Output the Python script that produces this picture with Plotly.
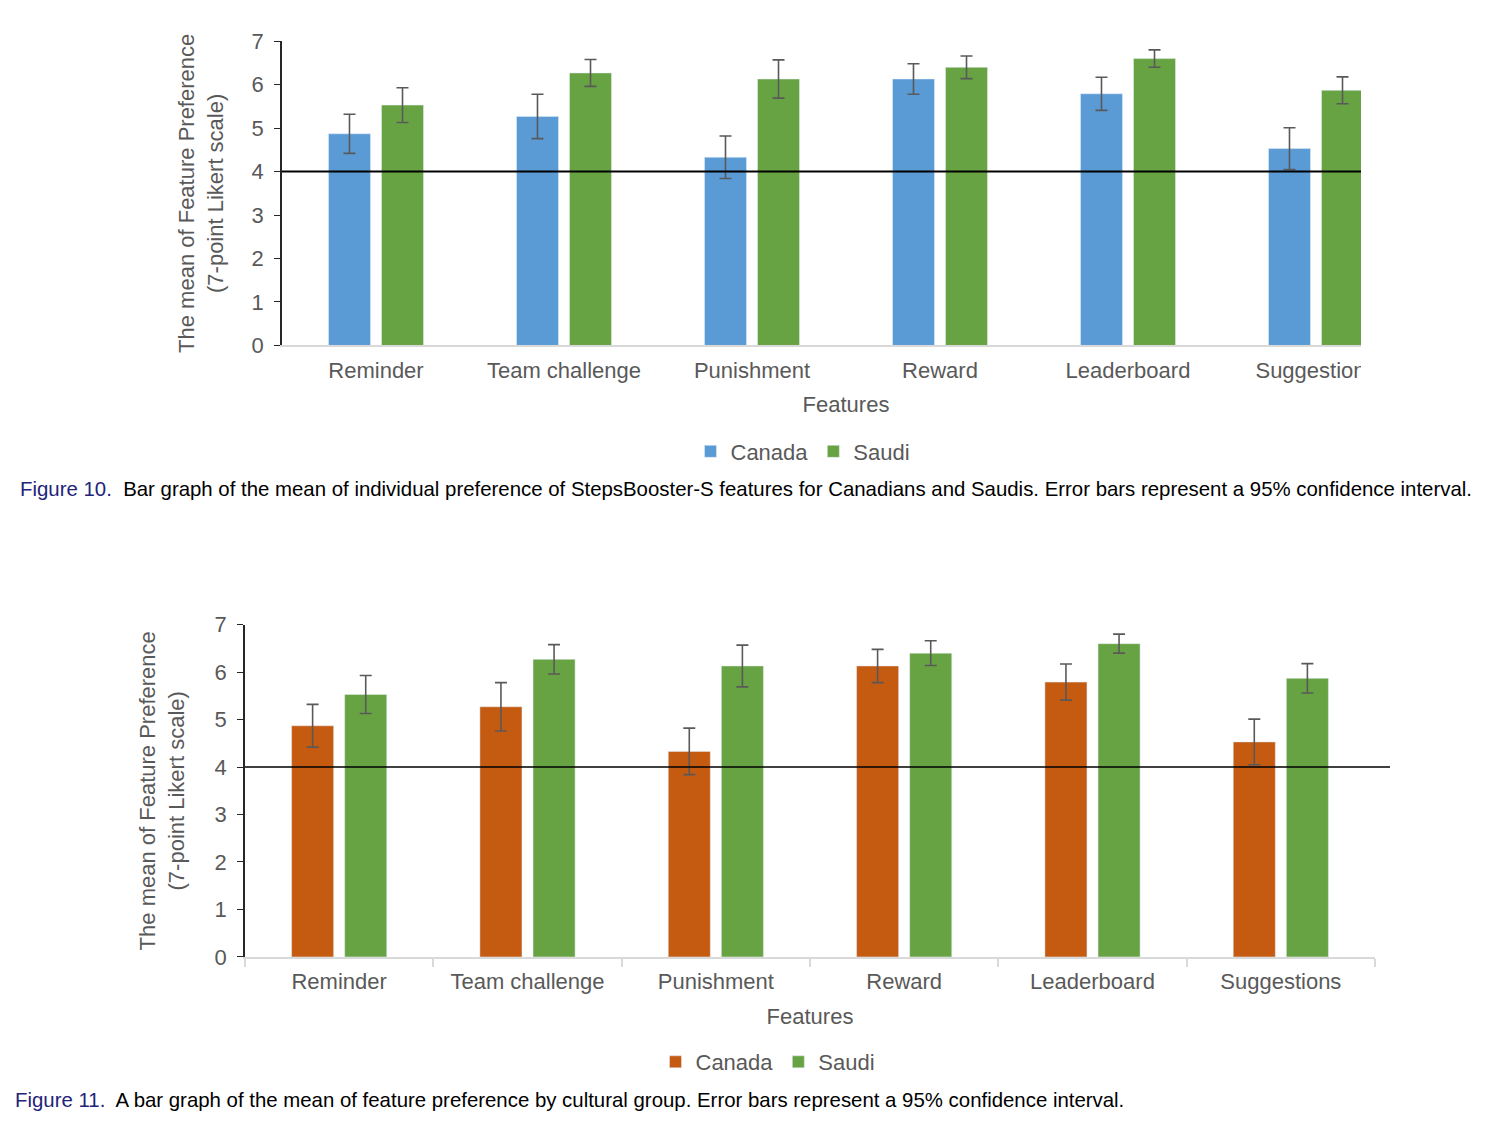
import plotly.graph_objects as go

features = ['Reminder', 'Team challenge', 'Punishment', 'Reward', 'Leaderboard', 'Suggestions']

canada_mean = [4.87, 5.27, 4.33, 6.13, 5.79, 4.53]
canada_ci = [0.45, 0.51, 0.49, 0.35, 0.38, 0.48]
saudi_mean = [5.53, 6.27, 6.13, 6.40, 6.60, 5.87]
saudi_ci = [0.40, 0.31, 0.44, 0.26, 0.20, 0.31]

neutral_point = 4

blue = '#5B9BD5'
orange = '#C55A11'
green = '#68A343'
grey_txt = '#595959'
font_main = 'Liberation Sans, Arial, sans-serif'

W, H = 1510, 1124
PAGE_MARGIN = 8  # default body margin of the html page
# vertical placement correction measured from earlier renders
Y_OFF, Y_SCALE = 20.8, 0.977


def px_x(p):
    return (p - PAGE_MARGIN) / W


def px_y(p):
    return 1 - ((p - Y_OFF) / Y_SCALE) / H


err_style = dict(type='data', color='#595959', thickness=1.6, width=6)

fig = go.Figure()

# --- Figure 10 (top) ---
fig.add_trace(go.Bar(x=features, y=canada_mean, name='Canada', marker_color=blue,
                     error_y=dict(array=canada_ci, **err_style),
                     xaxis='x', yaxis='y', legend='legend'))
fig.add_trace(go.Bar(x=features, y=saudi_mean, name='Saudi', marker_color=green,
                     error_y=dict(array=saudi_ci, **err_style),
                     xaxis='x', yaxis='y', legend='legend'))

# --- Figure 11 (bottom) ---
fig.add_trace(go.Bar(x=features, y=canada_mean, name='Canada', marker_color=orange,
                     error_y=dict(array=canada_ci, **err_style),
                     xaxis='x2', yaxis='y2', legend='legend2'))
fig.add_trace(go.Bar(x=features, y=saudi_mean, name='Saudi', marker_color=green,
                     error_y=dict(array=saudi_ci, **err_style),
                     xaxis='x2', yaxis='y2', legend='legend2'))

ytitle = 'The mean of Feature Preference<br>(7-point Likert scale)'
tickfont = dict(family=font_main, size=22, color=grey_txt)

yaxis_common = dict(range=[0, 7], dtick=1, showgrid=False, zeroline=False,
                    showline=True, linecolor='#262626', linewidth=1.5,
                    ticks='outside', ticklen=6, tickcolor='#262626',
                    tickfont=tickfont, ticklabelstandoff=6)

xaxis_common = dict(showgrid=False, zeroline=False, showline=True,
                    linecolor='#D9D9D9', linewidth=2, tickfont=tickfont, ticklabelstandoff=4,
                    title=dict(text='Features', font=tickfont, standoff=15))

fig.update_layout(
    width=W, height=H,
    margin=dict(l=0, r=0, t=0, b=0),
    paper_bgcolor='white', plot_bgcolor='white',
    barmode='group', bargap=0.436, bargroupgap=0.208,
    font=dict(family=font_main, color=grey_txt),
    xaxis=dict(domain=[px_x(282), px_x(1410)], anchor='y', **xaxis_common),
    yaxis=dict(domain=[px_y(346), px_y(42)], anchor='x',
               title=dict(text=ytitle, font=tickfont, standoff=22), **yaxis_common),
    xaxis2=dict(domain=[px_x(245), px_x(1375)], anchor='y2',
                ticks='outside', tickson='boundaries', ticklen=8, tickcolor='#D9D9D9',
                tickwidth=2, **xaxis_common),
    yaxis2=dict(domain=[px_y(957), px_y(625)], anchor='x2',
                title=dict(text=ytitle, font=tickfont, standoff=24), **yaxis_common),
    legend=dict(orientation='h', x=px_x(803), xanchor='center', y=px_y(452), yanchor='middle',
                font=dict(family=font_main, size=22, color=grey_txt), itemwidth=30,
                bgcolor='rgba(0,0,0,0)'),
    legend2=dict(orientation='h', x=px_x(768), xanchor='center', y=px_y(1062), yanchor='middle',
                 font=dict(family=font_main, size=22, color=grey_txt), itemwidth=30,
                 bgcolor='rgba(0,0,0,0)'),
)

# neutral reference line at 4
fig.add_shape(type='line', xref='x domain', yref='y', x0=0, x1=1, y0=neutral_point, y1=neutral_point,
              line=dict(color='black', width=2), layer='above')
fig.add_shape(type='line', xref='x2 domain', yref='y2', x0=0, x1=(1390 - 245) / (1375 - 245),
              y0=neutral_point, y1=neutral_point, line=dict(color='black', width=1.5), layer='above')

# the top chart image is cropped on the right
fig.add_shape(type='rect', xref='paper', yref='paper', x0=px_x(1361), x1=1.0, y0=px_y(430), y1=1.0,
              fillcolor='white', line=dict(width=0), layer='above')

cap_font = dict(family=font_main, size=20.4, color='black')
fig.add_annotation(xref='paper', yref='paper', x=px_x(18), y=px_y(489), xanchor='left', yanchor='middle',
                   showarrow=False, font=cap_font,
                   text="<span style='color:#232379'>Figure 10.</span>  Bar graph of the mean of individual "
                        "preference of StepsBooster-S features for Canadians and Saudis. Error bars represent "
                        "a 95% confidence interval.")
fig.add_annotation(xref='paper', yref='paper', x=px_x(13), y=px_y(1100), xanchor='left', yanchor='middle',
                   showarrow=False, font=cap_font,
                   text="<span style='color:#232379'>Figure 11.</span>  A bar graph of the mean of feature "
                        "preference by cultural group. Error bars represent a 95% confidence interval.")

fig.write_html('out.html')
